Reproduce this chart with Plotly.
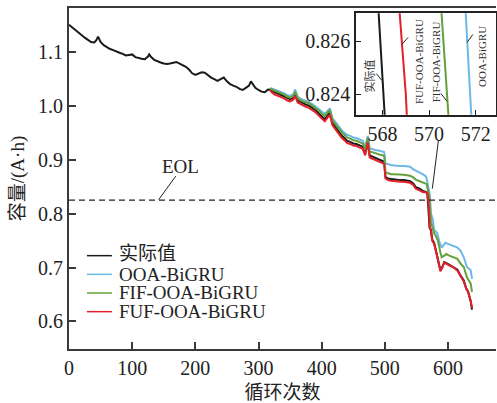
import plotly.graph_objects as go

# ---- measured capacity (A·h) versus cycle number ----
cycles_actual = [0, 5, 10, 15, 20, 25, 30, 35, 40, 43, 46, 50, 55, 60, 65, 70, 75, 80, 85, 90,
                 95, 100, 105, 110, 115, 120, 125, 127, 130, 135, 140, 145, 150, 155, 160, 165,
                 170, 175, 180, 185, 190, 195, 200, 205, 210, 215, 220, 225, 230, 235, 240, 245,
                 250, 255, 260, 265, 270, 275, 280, 285, 288, 292, 295, 300, 305, 310, 315, 320,
                 325, 330, 335, 340, 345, 350, 355, 358, 362, 365, 370, 375, 380, 385, 390, 395,
                 400, 405, 410, 413, 417, 420, 425, 428, 432, 436, 440, 445, 450, 455, 460, 465,
                 469, 473, 476, 480, 485, 490, 495, 499, 501, 505, 510, 515, 520, 525, 530, 535,
                 540, 545, 549, 555, 560, 565, 566, 567, 568, 569, 570, 571, 573, 575, 578, 581,
                 584, 588, 591, 594, 599, 604, 609, 615, 620, 625, 629, 632, 636, 638]
cap_actual = [1.150, 1.145, 1.141, 1.135, 1.130, 1.126, 1.122, 1.118, 1.117, 1.121, 1.128, 1.118,
              1.112, 1.108, 1.105, 1.103, 1.100, 1.098, 1.096, 1.093, 1.094, 1.095, 1.090, 1.088,
              1.087, 1.086, 1.091, 1.095, 1.090, 1.085, 1.082, 1.080, 1.078, 1.077, 1.078, 1.080,
              1.081, 1.078, 1.075, 1.072, 1.067, 1.060, 1.057, 1.059, 1.062, 1.061, 1.056, 1.052,
              1.049, 1.046, 1.049, 1.052, 1.045, 1.040, 1.037, 1.035, 1.031, 1.029, 1.033, 1.037,
              1.045, 1.038, 1.033, 1.029, 1.026, 1.025, 1.030, 1.029, 1.025, 1.023, 1.020, 1.018,
              1.014, 1.012, 1.015, 1.022, 1.010, 1.008, 1.004, 1.002, 1.000, 0.996, 0.992, 0.986,
              0.980, 0.975, 0.983, 0.987, 0.968, 0.963, 0.957, 0.950, 0.944, 0.940, 0.935, 0.933,
              0.930, 0.929, 0.927, 0.924, 0.912, 0.937, 0.908, 0.906, 0.904, 0.901, 0.898, 0.896,
              0.868, 0.865, 0.864, 0.863, 0.863, 0.862, 0.862, 0.861, 0.860, 0.856, 0.849, 0.846,
              0.842, 0.840, 0.8398, 0.8394, 0.8247, 0.8101, 0.795, 0.773, 0.770, 0.752, 0.746,
              0.731, 0.716, 0.695, 0.701, 0.710, 0.707, 0.704, 0.701, 0.696, 0.685, 0.676, 0.661,
              0.655, 0.637, 0.622]

# ---- OOA-BiGRU prediction ----
cycles_ooa = [318, 320, 325, 330, 335, 340, 345, 350, 355, 358, 362, 365, 370, 375, 380, 385,
              390, 395, 400, 405, 410, 413, 417, 420, 425, 428, 432, 436, 440, 445, 450, 455,
              460, 465, 469, 473, 476, 480, 485, 490, 495, 499, 501, 505, 510, 515, 520, 525,
              530, 535, 540, 545, 549, 555, 560, 565, 566, 567, 568, 569, 570, 571, 572, 573,
              576, 578, 583, 586, 590, 594, 596, 602, 609, 615, 620, 625, 630, 636, 638]
cap_ooa = [1.031, 1.032, 1.030, 1.028, 1.025, 1.023, 1.020, 1.018, 1.021, 1.030, 1.017, 1.014,
           1.011, 1.009, 1.007, 1.003, 0.999, 0.994, 0.989, 0.985, 0.991, 0.995, 0.977, 0.972,
           0.966, 0.960, 0.954, 0.950, 0.946, 0.944, 0.941, 0.940, 0.938, 0.935, 0.924, 0.944,
           0.921, 0.919, 0.918, 0.917, 0.916, 0.914, 0.893, 0.891, 0.890, 0.889, 0.888, 0.888,
           0.888, 0.888, 0.887, 0.882, 0.879, 0.876, 0.873, 0.869, 0.866, 0.862, 0.855, 0.848,
           0.842, 0.8362, 0.8202, 0.800, 0.789, 0.770, 0.764, 0.749, 0.737, 0.743, 0.746, 0.743,
           0.740, 0.737, 0.731, 0.719, 0.701, 0.695, 0.679]

# ---- FIF-OOA-BiGRU prediction ----
cycles_fif = [318, 320, 325, 330, 335, 340, 345, 350, 355, 358, 362, 365, 370, 375, 380, 385,
              390, 395, 400, 405, 410, 413, 417, 420, 425, 428, 432, 436, 440, 445, 450, 455,
              460, 465, 469, 473, 476, 480, 485, 490, 495, 499, 501, 505, 510, 515, 520, 525,
              530, 535, 540, 545, 549, 555, 560, 565, 566, 567, 568, 569, 570, 571, 573, 575,
              578, 581, 584, 588, 590, 594, 597, 602, 609, 615, 620, 625, 630, 636, 638]
cap_fif = [1.030, 1.031, 1.028, 1.026, 1.023, 1.021, 1.017, 1.015, 1.018, 1.026, 1.014, 1.011,
           1.008, 1.006, 1.004, 1.000, 0.996, 0.991, 0.985, 0.981, 0.988, 0.992, 0.973, 0.968,
           0.962, 0.956, 0.950, 0.946, 0.941, 0.939, 0.936, 0.935, 0.933, 0.930, 0.918, 0.941,
           0.915, 0.913, 0.912, 0.910, 0.909, 0.907, 0.876, 0.874, 0.873, 0.873, 0.873, 0.873,
           0.872, 0.871, 0.870, 0.867, 0.863, 0.860, 0.858, 0.856, 0.855, 0.850, 0.845, 0.840,
           0.834, 0.821, 0.785, 0.776, 0.764, 0.758, 0.750, 0.728, 0.719, 0.722, 0.725, 0.722,
           0.719, 0.716, 0.707, 0.701, 0.682, 0.670, 0.655]

# ---- FUF-OOA-BiGRU prediction ----
cycles_fuf = [318, 320, 325, 330, 335, 340, 345, 350, 355, 358, 362, 365, 370, 375, 380, 385,
              390, 395, 400, 405, 410, 413, 417, 420, 425, 428, 432, 436, 440, 445, 450, 455,
              460, 465, 469, 473, 476, 480, 485, 490, 495, 499, 501, 505, 510, 515, 520, 525,
              530, 535, 540, 545, 549, 555, 560, 565, 566, 567, 568, 569, 570, 571, 573, 575,
              578, 581, 584, 588, 591, 594, 599, 604, 609, 615, 620, 625, 629, 632, 636, 638]
cap_fuf = [1.029, 1.026, 1.021, 1.019, 1.016, 1.014, 1.010, 1.008, 1.011, 1.018, 1.006, 1.004,
           1.000, 0.998, 0.996, 0.992, 0.988, 0.982, 0.976, 0.971, 0.979, 0.983, 0.964, 0.959,
           0.953, 0.946, 0.940, 0.936, 0.931, 0.929, 0.926, 0.925, 0.923, 0.920, 0.908, 0.932,
           0.904, 0.902, 0.900, 0.897, 0.894, 0.892, 0.865, 0.862, 0.861, 0.860, 0.860, 0.859,
           0.859, 0.858, 0.857, 0.853, 0.846, 0.843, 0.840, 0.8390, 0.8388, 0.8385, 0.8356,
           0.8240, 0.806, 0.775, 0.768, 0.750, 0.744, 0.730, 0.714, 0.693, 0.700, 0.709, 0.706,
           0.703, 0.700, 0.694, 0.684, 0.674, 0.660, 0.654, 0.638, 0.625]

EOL_CAPACITY = 0.825

x_ticks = [0, 100, 200, 300, 400, 500, 600]
y_ticks = [0.6, 0.7, 0.8, 0.9, 1.0, 1.1]
inset_x_ticks = [568, 570, 572]
inset_y_ticks = [0.824, 0.826]

series = [
    ("实际值", cycles_actual, cap_actual, "#1a1a1a"),
    ("OOA-BiGRU", cycles_ooa, cap_ooa, "#6cb8e6"),
    ("FIF-OOA-BiGRU", cycles_fif, cap_fif, "#66a03a"),
    ("FUF-OOA-BiGRU", cycles_fuf, cap_fuf, "#e3202a"),
]

SERIF = "Liberation Serif, Noto Sans CJK SC, serif"
AXIS_COLOR = "#3a3a3a"

fig = go.Figure()

for name, xs, ys, color in series:
    fig.add_trace(go.Scatter(x=xs, y=ys, mode="lines", name=name,
                             line=dict(color=color, width=2), showlegend=False,
                             xaxis="x", yaxis="y"))
for name, xs, ys, color in series:
    fig.add_trace(go.Scatter(x=xs, y=ys, mode="lines", name=name,
                             line=dict(color=color, width=2), showlegend=False,
                             xaxis="x2", yaxis="y2"))

shapes = []
annotations = []

# end-of-life threshold
shapes.append(dict(type="line", xref="paper", yref="y", x0=0, x1=1,
                   y0=EOL_CAPACITY, y1=EOL_CAPACITY,
                   line=dict(color="#222222", width=1.3, dash="6px,4px")))
annotations.append(dict(text="EOL", x=176.9, y=0.8876, xref="x", yref="y",
                        showarrow=False, font=dict(family=SERIF, size=19, color="#222")))
shapes.append(dict(type="line", xref="x", yref="y", x0=169, y0=0.8694, x1=142, y1=0.8257,
                   line=dict(color="#222", width=1)))
# pointer from the zoomed view to the threshold crossing
shapes.append(dict(type="line", xref="x", yref="y", x0=584.7, y0=0.9344, x1=575.2, y1=0.8463,
                   line=dict(color="#222", width=1)))

# hand-drawn legend (swatch row, text row)
legend_rows = [0.722, 0.6874, 0.6528, 0.6182]
legend_text_rows = [0.7255, 0.6874, 0.6528, 0.6182]
for (name, _, _, color), ly, ty in zip(series, legend_rows, legend_text_rows):
    shapes.append(dict(type="line", xref="x", yref="y", x0=28.4, x1=67.9, y0=ly, y1=ly,
                       line=dict(color=color, width=1.5)))
    annotations.append(dict(text=name, x=75.8, y=ty, xref="x", yref="y", xanchor="left",
                            yanchor="middle", showarrow=False,
                            font=dict(family=SERIF, size=19, color="#222")))

# labels inside the zoomed view
inset_labels = [
    ("实际值", 567.43, 0.82467, (567.74, 0.82477, 567.97, 0.82452)),
    ("FUF-OOA-BiGRU", 569.57, 0.82521, (568.84, 0.82588, 569.10, 0.82614)),
    ("FIF-OOA-BiGRU", 570.29, 0.82523, (570.51, 0.82402, 570.77, 0.82373)),
    ("OOA-BiGRU", 572.27, 0.82544, (571.63, 0.82595, 571.88, 0.82625)),
]
for text, lx, ly, (a0, b0, a1, b1) in inset_labels:
    annotations.append(dict(text=text, x=lx, y=ly, xref="x2", yref="y2", textangle=-90,
                            showarrow=False, font=dict(family=SERIF, size=11, color="#333")))
    shapes.append(dict(type="line", xref="x2", yref="y2", x0=a0, y0=b0, x1=a1, y1=b1,
                       line=dict(color="#222", width=1)))

tick_font = dict(family=SERIF, size=20, color="#222")

fig.update_layout(
    width=497, height=403,
    margin=dict(l=69, r=0, t=8, b=48),
    paper_bgcolor="white", plot_bgcolor="white",
    shapes=shapes, annotations=annotations,
    xaxis=dict(range=[0, 676], tickvals=x_ticks, ticks="inside", ticklen=7,
               tickcolor=AXIS_COLOR, tickwidth=1.5, showline=True, linecolor=AXIS_COLOR,
               linewidth=2, mirror=True, showgrid=False, zeroline=False,
               tickfont=tick_font,
               title=dict(text="循环次数", font=dict(family=SERIF, size=19, color="#222"),
                          standoff=11)),
    yaxis=dict(range=[0.549, 1.181], tickvals=y_ticks, tickformat=".1f", ticks="inside",
               ticklen=7, tickcolor=AXIS_COLOR, tickwidth=1.5, showline=True,
               linecolor=AXIS_COLOR, linewidth=2, showgrid=False, zeroline=False,
               tickfont=tick_font,
               title=dict(text="容量/(A·h)", font=dict(family=SERIF, size=19, color="#222"),
                          standoff=8)),
    xaxis2=dict(domain=[0.672, 0.9993], anchor="y2", range=[566.86, 572.86],
                tickvals=inset_x_ticks, ticks="inside", ticklen=5, tickcolor="#222",
                showline=True, linecolor="#222", linewidth=1.5, mirror=True,
                showgrid=False, zeroline=False, tickfont=tick_font),
    yaxis2=dict(domain=[0.6867, 0.9847], anchor="x2", range=[0.82322, 0.82705],
                tickvals=inset_y_ticks, tickformat=".3f", ticks="inside", ticklen=5,
                tickcolor="#222", showline=True, linecolor="#222", linewidth=1.5,
                mirror=True, showgrid=False, zeroline=False, tickfont=tick_font),
)

# white backing for the zoomed view
fig.add_shape(type="rect", xref="x2 domain", yref="y2 domain", x0=0, x1=1, y0=0, y1=1,
              fillcolor="white", line=dict(width=0), layer="below")

fig.write_html("out.html")
